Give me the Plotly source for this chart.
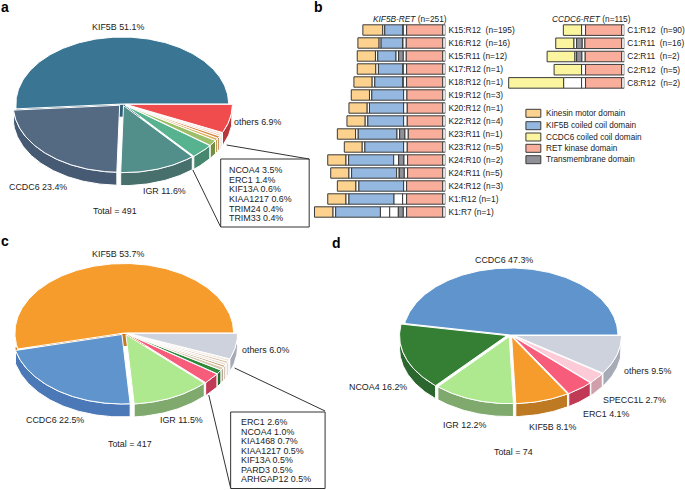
import numpy as np
import plotly.graph_objects as go

# ---------- data: panel a ----------
a_names = ["KIF5B", "CCDC6", "IGR", "NCOA4", "ERC1", "KIF13A", "KIAA1217", "TRIM24", "TRIM33", "others"]
a_values = [51.1, 23.4, 11.6, 3.5, 1.4, 0.6, 0.6, 0.4, 0.4, 6.9]
a_top = ["#3a7694", "#536a82", "#528e8a", "#57b28f", "#9cc069", "#e0b25c", "#d98a45", "#e6b79e", "#f0d0bd", "#f04c4d"]
a_side = ["#2f5f78", "#465a73", "#47706d", "#47876f", "#728f43", "#b88a3a", "#b0682c", "#c4957d", "#d8b5a0", "#b8353a"]
a_box = ["NCOA4 3.5%", "ERC1 1.4%", "KIF13A 0.6%", "KIAA1217 0.6%", "TRIM24 0.4%", "TRIM33 0.4%"]

# ---------- data: panel c ----------
c_names = ["KIF5B", "CCDC6", "IGR", "ERC1", "NCOA4", "KIA1468", "KIAA1217", "KIF13A", "PARD3", "ARHGAP12", "others"]
c_values = [53.7, 22.5, 11.5, 2.6, 1.0, 0.7, 0.5, 0.5, 0.5, 0.5, 6.0]
c_top = ["#f59c2d", "#5f95cc", "#aee88f", "#f75c7a", "#2f8a3c", "#d8c8b0", "#c9a98a", "#e8dccb", "#d9c2a8", "#efe6d8", "#cdd2dc"]
c_side = ["#c47a20", "#4b78b6", "#7fa96d", "#c03a55", "#246b2f", "#b5a68f", "#a78b70", "#c5baa9", "#b8a48c", "#cfc6b8", "#a7abb5"]
c_box = ["ERC1 2.6%", "NCOA4 1.0%", "KIA1468 0.7%", "KIAA1217 0.5%", "KIF13A 0.5%", "PARD3 0.5%", "ARHGAP12 0.5%"]

# ---------- data: panel d ----------
d_names = ["CCDC6", "NCOA4", "IGR", "KIF5B", "ERC1", "SPECC1L", "others"]
d_values = [47.3, 16.2, 12.2, 8.1, 4.1, 2.7, 9.5]
d_top = ["#5f95cc", "#357f35", "#aee88f", "#f59c2d", "#f75c7a", "#fdcbd8", "#cdd2dc"]
d_side = ["#4b78b6", "#2a662e", "#7fa96d", "#bd7a22", "#c03a55", "#cf9fab", "#a7abb5"]

# ---------- data: panel b (domain lengths, left to right) ----------
kif_labels = ["K15:R12  (n=195)", "K16:R12  (n=16)", "K15:R11 (n=12)", "K17:R12 (n=1)", "K18:R12 (n=1)",
              "K19:R12 (n=3)", "K20:R12 (n=1)", "K22:R12 (n=4)", "K23:R11 (n=1)", "K23:R12 (n=5)",
              "K24:R10 (n=2)", "K24:R11 (n=5)", "K24:R12 (n=3)", "K1:R12 (n=1)", "K1:R7 (n=1)"]
kif_kinesin = [60, 64, 55, 56, 55, 55, 55, 55, 55, 54, 55, 55, 56, 55, 56]
kif_link = [6, 6, 7, 8, 8, 7, 7, 8, 8, 8, 8, 8, 9, 9, 8]
kif_coil = [56, 66, 55, 75, 86, 96, 103, 108, 117, 117, 136, 136, 135, 136, 135]
kif_exon1 = [0, 0, 8, 0, 0, 0, 0, 0, 8, 0, 15, 8, 0, 26, 28]
kif_exon2 = [0, 0, 0, 0, 0, 0, 0, 0, 0, 0, 0, 0, 0, 0, 26]
kif_tm = [0, 0, 14, 0, 0, 0, 0, 0, 16, 0, 16, 15, 0, 0, 15]
kif_ret = [10, 10, 9, 10, 10, 10, 11, 11, 10, 11, 11, 10, 9, 12, 10]
kif_kinase = [109, 110, 110, 109, 109, 108, 107, 107, 104, 107, 106, 106, 109, 109, 109]
kif_tail = [8, 8, 8, 8, 8, 8, 8, 8, 8, 8, 8, 8, 8, 8, 8]

ccdc_labels = ["C1:R12  (n=90)", "C1:R11  (n=16)", "C2:R11  (n=2)", "C2:R12  (n=5)", "C8:R12  (n=2)"]
ccdc_coil = [55, 55, 84, 83, 166]
ccdc_exon1 = [0, 8, 5, 0, 54]
ccdc_tm = [0, 17, 16, 0, 0]
ccdc_ret = [12, 8, 10, 12, 12]
ccdc_kinase = [109, 111, 110, 109, 109]
ccdc_tail = [8, 8, 8, 8, 8]

legend_names = ["Kinesin motor domain", "KIF5B coiled coil domain", "CCDC6 coiled coil domain",
                "RET kinase domain", "Transmembrane domain"]

# ---------- styles ----------
FONT = "Liberation Sans"
TXT = "#222222"
ORANGE, BLUE, YELLOW, SALMON, GREY, WHITE = "#fdd28e", "#94b8e0", "#fbf5a0", "#f8ae9b", "#8f9098", "#ffffff"
EDGE = "#3a3a3a"

fig = go.Figure()


def wedge_traces(values, top, side, cx, cy, rx, ry, depth, explode):
    total = sum(values)
    start = 0.0
    walls, tops = [], []
    for i, v in enumerate(values):
        end = start + v / total * 2 * np.pi
        mid = (start + end) / 2
        e = 0 if i == 0 else explode
        ox, oy = cx + e * np.cos(mid), cy - e * 0.45 * np.sin(mid)
        t = np.linspace(start, end, max(3, int((end - start) * 60)))
        ax = ox + rx * np.cos(t)
        ay = oy - ry * np.sin(t)
        tops.append(go.Scatter(x=np.r_[ox, ax, ox], y=np.r_[oy, ay, oy], mode="lines", fill="toself",
                               fillcolor=top[i], line=dict(color="white", width=1), hoverinfo="skip",
                               showlegend=False))
        low = np.sin(t) <= 0.0
        if low.any():
            wx, wy = ax[low], ay[low]
            walls.append(go.Scatter(x=np.r_[wx, wx[::-1], wx[0]], y=np.r_[wy, wy[::-1] + depth, wy[0]],
                                    mode="lines", fill="toself", fillcolor=side[i],
                                    line=dict(color="white", width=1), hoverinfo="skip", showlegend=False))
        start = end
    for tr in walls + tops:
        fig.add_trace(tr)


wedge_traces(a_values, a_top, a_side, 123, 104, 107, 67, 13, 3.8)
wedge_traces(c_values, c_top, c_side, 125, 333, 110, 69.5, 13, 4)
wedge_traces(d_values, d_top, d_side, 513.5, 335, 108, 67, 13, 3.8)


def bar_group(labels, segments, xa, ya):
    widths = np.array([s[0] for s in segments], dtype=float)
    base = -widths.sum(axis=0)
    for (w, color), row in zip(segments, widths):
        fig.add_trace(go.Bar(y=labels, x=row, base=base.copy(), orientation="h", marker=dict(
            color=color, line=dict(color=EDGE, width=1)), width=0.8, xaxis=xa, yaxis=ya,
            hoverinfo="skip", showlegend=False))
        base = base + row


bar_group(kif_labels, [(kif_kinesin, ORANGE), (kif_link, WHITE), (kif_coil, BLUE), (kif_exon1, WHITE),
                       (kif_exon2, WHITE), (kif_tm, GREY), (kif_ret, WHITE), (kif_kinase, SALMON),
                       (kif_tail, WHITE)], "x2", "y2")
bar_group(ccdc_labels, [(ccdc_coil, YELLOW), (ccdc_exon1, WHITE), (ccdc_tm, GREY), (ccdc_ret, WHITE),
                        (ccdc_kinase, SALMON), (ccdc_tail, WHITE)], "x3", "y3")


def text(x, y, s, size=8.9, anchor="center", **kw):
    fig.add_annotation(x=x, y=y, text=s, showarrow=False, xanchor=anchor, yanchor="middle",
                       font=dict(family=FONT, size=size, color=kw.pop("color", TXT)), **kw)


def fmt(names, values, i):
    return f"{names[i]} {values[i]:.1f}%"


for s, x, y in [("a", 5.5, 7), ("b", 320, 7), ("c", 5.5, 241), ("d", 338, 243)]:
    text(x, y, f"<b>{s}</b>", size=14, color="#000000")

text(119, 27, fmt(a_names, a_values, 0))
text(38, 187, fmt(a_names, a_values, 1))
text(165, 191, fmt(a_names, a_values, 2))
text(259, 122, fmt(a_names, a_values, 9))
text(116, 211, "Total = 491")
text(119, 254, fmt(c_names, c_values, 0))
text(55, 420, fmt(c_names, c_values, 1))
text(183, 420, fmt(c_names, c_values, 2))
text(267, 350, fmt(c_names, c_values, 10))
text(131, 444, "Total = 417")
text(507, 260, fmt(d_names, d_values, 0))
text(380, 387, fmt(d_names, d_values, 1))
text(468, 425, fmt(d_names, d_values, 2))
text(556, 427, fmt(d_names, d_values, 3))
text(610, 414, fmt(d_names, d_values, 4))
text(638, 400, fmt(d_names, d_values, 5))
text(651, 371, fmt(d_names, d_values, 6))
text(517, 452, "Total = 74")

shapes = []
LINE = dict(color="#333333", width=1)
shapes += [dict(type="line", x0=228, y0=145, x1=311, y1=159, line=LINE),
           dict(type="line", x0=194, y0=170, x1=222, y1=227, line=LINE),
           dict(type="rect", x0=222, y0=159, x1=311, y1=227, line=LINE),
           dict(type="line", x0=236, y0=368, x1=327, y1=411, line=LINE),
           dict(type="line", x0=210, y0=395, x1=232, y1=488, line=LINE),
           dict(type="rect", x0=232, y0=412, x1=327, y1=488.5, line=LINE)]
for i, s in enumerate(a_box):
    text(228, 170 + i * 9.65, s, anchor="left")
for i, s in enumerate(c_box):
    text(240, 422 + i * 9.5, s, anchor="left")

text(412, 19, "<i>KIF5B-RET</i> (n=251)", size=8.3)
text(595, 19, "<i>CCDC6-RET</i> (n=115)", size=8.3)
for name, color, y in zip(legend_names, [ORANGE, BLUE, YELLOW, SALMON, GREY], [113.3, 125.7, 137, 148.3, 159.7]):
    shapes.append(dict(type="rect", x0=529, x1=544, y0=y - 4, y1=y + 4, fillcolor=color,
                       line=dict(color=EDGE, width=1)))
    text(547, y, name, size=8.2, anchor="left")

W, H = 685, 490
axis_off = dict(visible=False, showgrid=False, zeroline=False, fixedrange=True)
rows = 13.0
kif_span = (23.5, 23.5 + 15 * rows)
cc_span = (23.5, 23.5 + 5 * 13.2)


def ydom(span):
    return [1 - span[1] / H, 1 - span[0] / H]


fig.update_layout(
    width=W, height=H, autosize=False, margin=dict(l=0, r=0, t=0, b=0),
    paper_bgcolor="white", plot_bgcolor="rgba(0,0,0,0)", showlegend=False,
    barmode="overlay", shapes=shapes,
    xaxis=dict(range=[0, W], domain=[0, 1], **axis_off),
    yaxis=dict(range=[H, 0], domain=[0, 1], **axis_off),
    xaxis2=dict(range=[-414, 0], domain=[310 / W, 448 / W], anchor="y2", **axis_off),
    yaxis2=dict(domain=ydom(kif_span), range=[14.5, -0.5], type="category", categoryorder="array",
                categoryarray=kif_labels, anchor="x2", side="right", showgrid=False, zeroline=False,
                showline=False, ticks="", ticklen=0, ticklabelstandoff=2, fixedrange=True,
                tickfont=dict(family=FONT, size=8.4, color=TXT)),
    xaxis3=dict(range=[-414, 0], domain=[490 / W, 628 / W], anchor="y3", **axis_off),
    yaxis3=dict(domain=ydom(cc_span), range=[4.5, -0.5], type="category", categoryorder="array",
                categoryarray=ccdc_labels, anchor="x3", side="right", showgrid=False, zeroline=False,
                showline=False, ticks="", ticklen=0, ticklabelstandoff=2, fixedrange=True,
                tickfont=dict(family=FONT, size=8.4, color=TXT)),
)
fig.write_html("out.html", config={"displayModeBar": False},
               post_script="document.documentElement.style.overflow='hidden';document.body.style.margin='0';")
